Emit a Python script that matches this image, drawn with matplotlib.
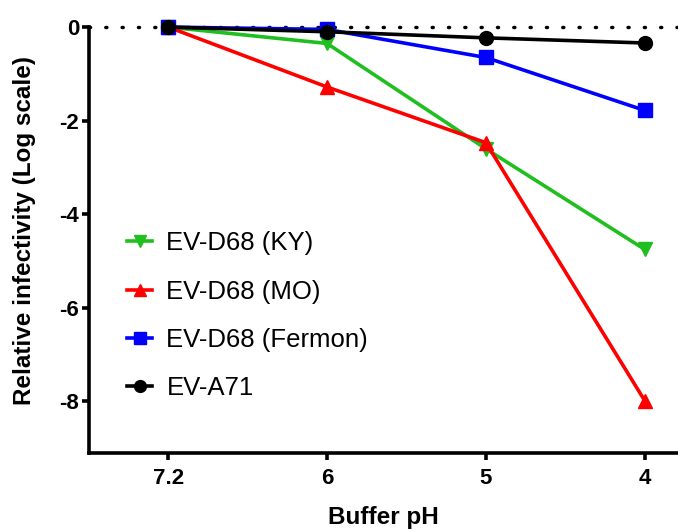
import matplotlib
matplotlib.use("Agg")
import matplotlib.pyplot as plt

plt.rcParams["font.family"] = ["Liberation Sans", "DejaVu Sans"]

ph_labels = ["7.2", "6", "5", "4"]
ky = [0.0, -0.35, -2.6, -4.75]
mo = [0.0, -1.28, -2.47, -7.98]
fermon = [0.0, -0.05, -0.65, -1.78]
a71 = [0.0, -0.1, -0.23, -0.34]

series = [
    ("EV-D68 (KY)", ky, "#1fbf1f", "v"),
    ("EV-D68 (MO)", mo, "#ff0000", "^"),
    ("EV-D68 (Fermon)", fermon, "#0000ff", "s"),
    ("EV-A71", a71, "black", "o"),
]

fig = plt.figure(figsize=(6.78, 5.31), dpi=100)
ax = fig.add_axes([0.131, 0.147, 0.869, 0.802])

x = list(range(len(ph_labels)))
# dotted reference line at zero
ax.plot([-0.5, 3.5], [0, 0], color="black", lw=2.5, dashes=(0.3, 4.4),
        dash_capstyle="round", clip_on=False, zorder=1)

for label, vals, color, marker in series:
    ax.plot(x, vals, color=color, marker=marker, markersize=10, lw=2.6,
            label=label, clip_on=False, zorder=3)

ax.set_xlim(-0.5, 3.21)
ax.set_ylim(-9.1, 0)
ax.set_xticks(x)
ax.set_xticklabels(ph_labels)
ax.set_yticks([0, -2, -4, -6, -8])
ax.set_yticklabels(["0", "-2", "-4", "-6", "-8"])

for side in ["top", "right"]:
    ax.spines[side].set_visible(False)
for side in ["left", "bottom"]:
    ax.spines[side].set_linewidth(2.6)
ax.tick_params(axis="both", width=2.6, length=5, labelsize=16)
ax.tick_params(axis="x", pad=6)
ax.tick_params(axis="y", pad=2)
for lbl in ax.get_xticklabels() + ax.get_yticklabels():
    lbl.set_fontweight("bold")

ax.set_xlabel("Buffer pH", fontsize=17.5, fontweight="bold", labelpad=12)
ax.set_ylabel("Relative infectivity (Log scale)", fontsize=17.5,
              fontweight="bold")
ax.yaxis.set_label_coords(-0.090, 0.523)

ax.legend(loc="upper left", bbox_to_anchor=(0.025, 0.575), frameon=False,
          fontsize=18.5, handlelength=1.0, labelspacing=0.95,
          handletextpad=0.55, markerscale=0.85)

fig.savefig("out.png", dpi=100)
